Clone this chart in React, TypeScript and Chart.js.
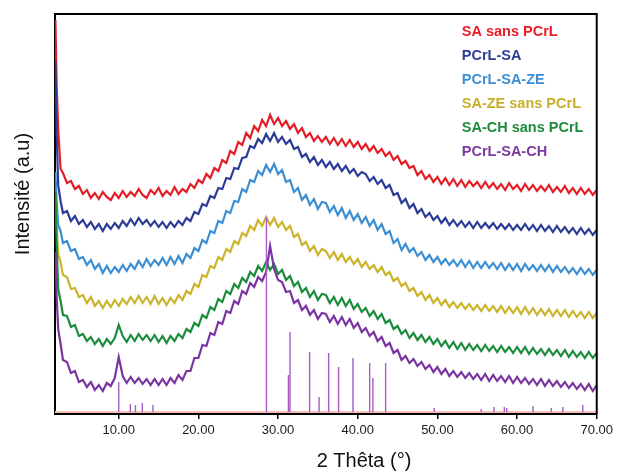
import React, { useEffect, useRef } from "react";
import { Chart, registerables } from "chart.js";

Chart.register(...registerables);

const FONT = "'Liberation Sans', Arial, Helvetica, sans-serif";

const X_TICKS = [10, 20, 30, 40, 50, 60, 70];
const X_TITLE = "2 Thêta (°)";
const Y_TITLE = "Intensité (a.u)";

const SERIES_NAMES = [
  "SA sans PCrL",
  "PCrL-SA",
  "PCrL-SA-ZE",
  "SA-ZE sans PCrL",
  "SA-CH sans PCrL",
  "PCrL-SA-CH",
];
const SERIES_COLORS = ["#e41e26", "#2c3b97", "#3a8fd4", "#cbb42b", "#1b8c3c", "#7a34a2"];
const LEGEND_COLORS = ["#ec1c24", "#2e3d98", "#3c8fd6", "#c9ae2a", "#1f8b3a", "#7b3a9f"];

const THETA = [
  2.05, 2.2, 2.4, 2.7, 3, 3.5, 4, 4.5, 5, 5.5,
  6, 6.5, 7, 7.5, 8, 8.5, 9, 9.5, 10, 10.5,
  11, 11.5, 12, 12.5, 13, 13.5, 14, 14.5, 15, 15.5,
  16, 16.5, 17, 17.5, 18, 18.5, 19, 19.5, 20, 20.5,
  21, 21.5, 22, 22.5, 23, 23.5, 24, 24.5, 25, 25.5,
  26, 26.5, 27, 27.5, 28, 28.5, 29, 29.5, 30, 30.5,
  31, 31.5, 32, 32.5, 33, 33.5, 34, 34.5, 35, 35.5,
  36, 36.5, 37, 37.5, 38, 38.5, 39, 39.5, 40, 40.5,
  41, 41.5, 42, 42.5, 43, 43.5, 44, 44.5, 45, 45.5,
  46, 46.5, 47, 47.5, 48, 48.5, 49, 49.5, 50, 50.5,
  51, 51.5, 52, 52.5, 53, 53.5, 54, 54.5, 55, 55.5,
  56, 56.5, 57, 57.5, 58, 58.5, 59, 59.5, 60, 60.5,
  61, 61.5, 62, 62.5, 63, 63.5, 64, 64.5, 65, 65.5,
  66, 66.5, 67, 67.5, 68, 68.5, 69, 69.5, 70,
];

const SA_SANS_PCRL = [
  392, 328, 283, 243, 239, 229, 231, 223, 226, 218,
  222, 214, 219, 213, 220, 215, 212, 219, 214, 221,
  215, 220, 216, 223, 217, 214, 222, 218, 224, 216,
  221, 217, 225, 218, 223, 220, 228, 224, 232, 229,
  238, 234, 244, 241, 252, 249, 261, 258, 270, 267,
  279, 274, 286, 281, 292, 286, 297, 288, 294, 286,
  291, 283, 288, 279, 284, 275, 279, 271, 276, 270,
  275, 268, 274, 267, 273, 266, 272, 265, 270, 263,
  268, 261, 266, 259, 263, 256, 260, 252, 256, 248,
  251, 244, 246, 237, 241, 233, 237, 230, 235, 228,
  234, 227, 233, 226, 232, 225, 231, 226, 230, 224,
  230, 224, 229, 223, 228, 222, 229, 223, 227, 221,
  228, 222, 227, 221, 226, 221, 227, 220, 225, 220,
  226, 219, 224, 218, 224, 218, 223, 217, 222,
];

const PCRL_SA = [
  350, 282, 227, 211, 199, 201, 191, 196, 188, 192,
  185, 190, 183, 188, 181, 188, 183, 189, 184, 191,
  186, 193, 187, 194, 188, 192, 186, 191, 185, 190,
  184, 190, 185, 191, 187, 194, 191, 200, 198, 208,
  206, 216, 214, 224, 223, 234, 233, 244, 243, 254,
  255, 266, 264, 273, 269, 278, 271, 279, 270, 275,
  268, 272, 263, 265, 255, 258, 250, 255, 247, 252,
  245, 250, 243, 248, 241, 246, 239, 243, 236, 240,
  238, 231, 235, 228, 232, 224, 227, 217, 219, 209,
  213, 204, 208, 199, 203, 195, 199, 192, 196, 189,
  194, 187, 192, 186, 191, 185, 190, 184, 190, 184,
  189, 184, 189, 183, 188, 183, 188, 182, 187, 182,
  188, 182, 187, 181, 187, 181, 186, 180, 186, 180,
  185, 179, 184, 178, 184, 178, 183, 177, 182,
];

const PCRL_SA_ZE = [
  240, 212, 187, 181, 169, 171, 161, 163, 153, 155,
  147, 152, 143, 148, 139, 146, 139, 145, 140, 147,
  141, 148, 143, 151, 145, 153, 146, 152, 147, 154,
  147, 155, 148, 156, 149, 158, 154, 164, 161, 172,
  169, 181, 179, 191, 189, 201, 199, 211, 210, 223,
  220, 232, 230, 241, 237, 247, 240, 248, 238, 242,
  230, 232, 220, 224, 212, 217, 207, 213, 203, 210,
  209, 200, 206, 197, 204, 194, 201, 192, 198, 189,
  195, 186, 192, 182, 188, 178, 181, 169, 173, 162,
  168, 160, 164, 156, 160, 152, 157, 150, 155, 148,
  153, 147, 152, 146, 152, 145, 151, 144, 150, 144,
  150, 144, 149, 143, 149, 142, 148, 142, 148, 141,
  148, 142, 147, 141, 147, 141, 147, 140, 146, 140,
  145, 139, 144, 138, 144, 138, 143, 137, 142,
];

const SA_ZE_SANS_PCRL = [
  215, 187, 158, 150, 137, 135, 123, 124, 115, 117,
  109, 115, 106, 111, 104, 111, 105, 112, 106, 113,
  108, 115, 109, 116, 109, 115, 108, 116, 108, 114,
  107, 114, 109, 117, 112, 121, 118, 128, 125, 137,
  135, 146, 144, 155, 152, 163, 160, 171, 168, 179,
  176, 186, 182, 192, 186, 195, 187, 194, 185, 190,
  182, 186, 175, 178, 167, 170, 161, 166, 157, 163,
  161, 154, 160, 152, 158, 150, 155, 148, 153, 145,
  150, 143, 147, 140, 145, 137, 140, 131, 134, 126,
  129, 121, 124, 116, 120, 112, 117, 109, 114, 107,
  112, 105, 110, 104, 109, 103, 108, 102, 107, 101,
  107, 101, 106, 100, 106, 99, 105, 99, 105, 98,
  105, 98, 104, 97, 103, 97, 103, 96, 102, 96,
  102, 95, 101, 95, 100, 94, 100, 94, 99,
];

const SA_CH_SANS_PCRL = [
  220, 172, 123, 111, 97, 96, 85, 87, 76, 78,
  71, 75, 68, 73, 66, 73, 68, 74, 87, 76,
  70, 77, 71, 78, 72, 77, 71, 77, 70, 76,
  69, 76, 71, 78, 74, 83, 80, 89, 86, 97,
  94, 105, 102, 113, 110, 121, 118, 128, 124, 134,
  130, 140, 136, 146, 141, 150, 142, 148, 138, 142,
  132, 136, 126, 130, 120, 124, 115, 121, 112, 118,
  117, 109, 115, 107, 114, 106, 112, 103, 108, 100,
  104, 96, 101, 93, 98, 89, 92, 83, 86, 78,
  82, 74, 79, 72, 77, 70, 75, 68, 73, 66,
  71, 64, 70, 63, 69, 62, 68, 62, 67, 61,
  67, 61, 66, 60, 66, 60, 65, 59, 65, 59,
  65, 58, 64, 58, 63, 57, 63, 57, 62, 56,
  62, 55, 61, 55, 60, 54, 60, 54, 59,
];

const PCRL_SA_CH = [
  160, 117, 83, 68, 52, 50, 39, 41, 30, 32,
  25, 30, 22, 27, 21, 29, 26, 34, 55, 36,
  29, 35, 29, 34, 28, 33, 27, 33, 27, 33,
  27, 34, 29, 37, 32, 41, 41, 54, 54, 67,
  66, 79, 77, 90, 88, 101, 99, 111, 108, 121,
  118, 129, 125, 135, 131, 140, 166, 143, 132, 130,
  120, 121, 109, 112, 102, 106, 97, 102, 93, 99,
  98, 90, 96, 88, 95, 87, 93, 84, 89, 80,
  84, 76, 80, 71, 75, 66, 69, 59, 62, 52,
  56, 49, 53, 46, 50, 43, 47, 40, 45, 38,
  43, 36, 41, 35, 40, 34, 39, 33, 38, 32,
  38, 31, 37, 31, 36, 30, 36, 29, 35, 29,
  34, 28, 33, 27, 33, 26, 32, 26, 31, 25,
  30, 24, 29, 23, 28, 22, 28, 21, 27,
];

const SERIES = [SA_SANS_PCRL, PCRL_SA, PCRL_SA_ZE, SA_ZE_SANS_PCRL, SA_CH_SANS_PCRL, PCRL_SA_CH];

// Reference pattern sticks (position in 2θ, relative height)
const STICK_POS = [10.0, 11.46, 12.1, 12.96, 14.3, 28.54, 31.3, 31.5, 33.96, 35.15, 36.35, 37.6, 39.4, 41.5, 41.9, 43.5, 49.6, 55.5, 57.1, 58.4, 58.7, 62.0, 64.3, 65.75, 68.25];
const STICK_H = [30, 8, 7, 9, 7, 195, 37, 80, 60, 15, 59, 45, 54, 49, 34, 49, 4, 3, 5, 5, 4, 6, 4, 5, 7];

const X_MIN = 2;
const X_MAX = 70;
const Y_MIN = -2;
const Y_MAX = 398;

const framePlugin = {
  id: "frameAndText",
  afterDraw(chart: any) {
    const { ctx, chartArea } = chart;
    const { left, right, top, bottom } = chartArea;
    ctx.save();
    ctx.strokeStyle = "#000";
    ctx.lineWidth = 2;
    ctx.beginPath();
    ctx.moveTo(left, top);
    ctx.lineTo(right, top);
    ctx.lineTo(right, bottom);
    ctx.stroke();

    ctx.font = `bold 14.5px ${FONT}`;
    ctx.textBaseline = "middle";
    ctx.textAlign = "left";
    SERIES_NAMES.forEach((name, i) => {
      ctx.fillStyle = LEGEND_COLORS[i];
      ctx.fillText(name, right - 135, top + 18 + i * 24);
    });

    ctx.fillStyle = "#111";
    ctx.font = `20px ${FONT}`;
    ctx.textAlign = "center";
    ctx.textBaseline = "alphabetic";
    ctx.fillText(X_TITLE, 364, 467);
    ctx.translate(28.5, 194);
    ctx.rotate(-Math.PI / 2);
    ctx.fillText(Y_TITLE, 0, 0);
    ctx.restore();
  },
};

export default function App() {
  const ref = useRef<HTMLCanvasElement | null>(null);

  useEffect(() => {
    if (!ref.current) return;
    const seriesSets = SERIES.map((ys, k) => ({
      label: SERIES_NAMES[k],
      data: THETA.map((x, i) => ({ x, y: ys[i] })),
      borderColor: SERIES_COLORS[k],
      backgroundColor: SERIES_COLORS[k],
      borderWidth: 2.2,
      pointRadius: 0,
      showLine: true,
      fill: false,
      order: 6 - k,
    }));
    const sticks = {
      label: "ref",
      data: STICK_POS.flatMap((x, i) => [
        { x, y: 0 },
        { x, y: STICK_H[i] },
        { x, y: null as any },
      ]),
      borderColor: "#a95cc6",
      borderWidth: 1.4,
      pointRadius: 0,
      showLine: true,
      spanGaps: false,
      fill: false,
      order: 0,
    };
    const baseline = {
      label: "base",
      data: [
        { x: X_MIN, y: 0 },
        { x: X_MAX, y: 0 },
      ],
      borderColor: "#f7bfb4",
      borderWidth: 2,
      pointRadius: 0,
      showLine: true,
      fill: false,
      order: 8,
    };

    const chart = new Chart(ref.current, {
      type: "scatter",
      data: { datasets: [baseline, ...seriesSets, sticks] as any },
      plugins: [framePlugin],
      options: {
        animation: false,
        responsive: true,
        maintainAspectRatio: false,
        layout: { padding: { top: 14, right: 18, left: 0, bottom: 0 } },
        plugins: { legend: { display: false }, tooltip: { enabled: false } },
        elements: { line: { tension: 0 } },
        scales: {
          x: {
            type: "linear",
            min: X_MIN,
            max: X_MAX,
            afterBuildTicks: (s: any) => {
              s.ticks = X_TICKS.map((v) => ({ value: v }));
            },
            afterFit: (s: any) => {
              s.height = 57;
            },
            ticks: {
              callback: (v: any) => Number(v).toFixed(2),
              font: { size: 13, family: FONT },
              color: "#1a1a1a",
              maxRotation: 0,
              autoSkip: false,
              padding: 4,
            },
            grid: {
              display: true,
              drawOnChartArea: false,
              drawTicks: true,
              tickLength: 5,
              color: "#000",
              lineWidth: 1.5,
            },
            border: { display: true, color: "#000", width: 2 },
          },
          y: {
            type: "linear",
            min: Y_MIN,
            max: Y_MAX,
            afterFit: (s: any) => {
              s.width = 55;
            },
            ticks: { display: false },
            grid: { display: false, drawTicks: false },
            border: { display: true, color: "#000", width: 2 },
          },
        },
      } as any,
    });
    return () => chart.destroy();
  }, []);

  return (
    <div style={{ position: "absolute", left: 0, top: 0, width: 617, height: 471, background: "#fff" }}>
      <canvas ref={ref} />
    </div>
  );
}
